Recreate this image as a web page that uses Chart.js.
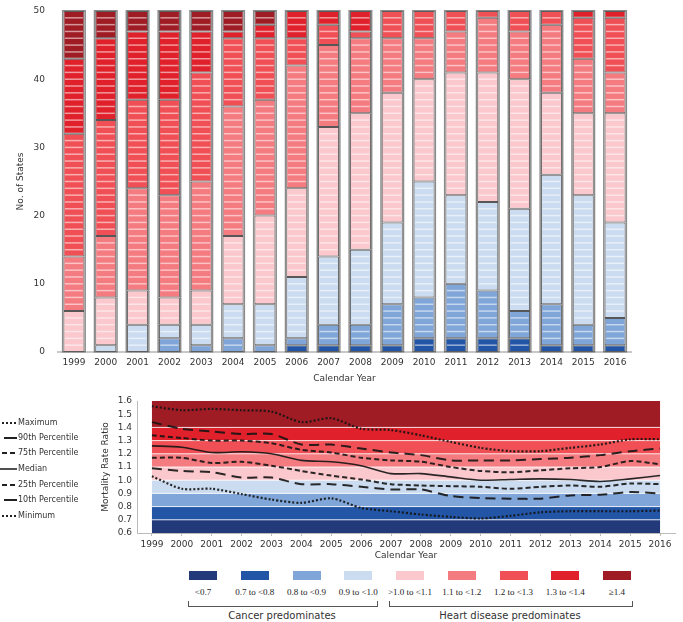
<!DOCTYPE html>
<html>
<head>
<meta charset="utf-8">
<script src="https://cdn.jsdelivr.net/npm/chart.js@4.4.0/dist/chart.umd.min.js"></script>
<style>
  body { margin: 0; background: #fff; font-family: "DejaVu Sans", sans-serif; color: #333; }
  #wrap { position: relative; width: 683px; height: 622px; overflow: hidden; }
  #topBox { position: absolute; left: 0; top: 0; width: 683px; height: 385px; }
  #botBox { position: absolute; left: 0; top: 390px; width: 683px; height: 172px; }
  .lg { position: absolute; left: 0; height: 12px; font-size: 8px; line-height: 12px; white-space: nowrap; }
  .lg svg { position: absolute; left: 0; top: 0; }
  .lg span { position: absolute; left: 18px; top: 0; }
  .box { position: absolute; top: 571px; width: 28px; height: 9px; }
  .blab { position: absolute; top: 586px; width: 60px; text-align: center; font-family: "Liberation Serif", serif; font-size: 9px; line-height: 12px; color: #222; }
  .brk { position: absolute; top: 601px; height: 5px; border: 1px solid #555; border-top: none; }
  .cap { position: absolute; top: 609px; font-size: 10px; line-height: 14px; text-align: center; }
</style>
</head>
<body>
<div id="wrap">
  <div id="topBox"><canvas id="stateChart"></canvas></div>
  <div id="botBox"><canvas id="ratioChart"></canvas></div>
  <div id="lineLegend"></div>
  <div id="colorLegend"></div>
</div>
<script>
const years = ['1999','2000','2001','2002','2003','2004','2005','2006','2007','2008','2009','2010','2011','2012','2013','2014','2015','2016'];

const rangeLabels = ['<0.7','0.7 to <0.8','0.8 to <0.9','0.9 to <1.0','>1.0 to <1.1','1.1 to <1.2','1.2 to <1.3','1.3 to <1.4','\u22651.4'];
const rangeColors = ['#233a7a','#2255a5','#80a6d9','#cbdcf0','#fac8cd','#f47b80','#f05055','#e0202a','#a01c25'];
const bandEdges = [0.6, 0.7, 0.8, 0.9, 1.0, 1.1, 1.2, 1.3, 1.4, 1.6];

// number of states in each ratio range, 1999-2016
const statesUnder07 = [0,0,0,0,0,0,0,0,0,0,0,0,0,0,0,0,0,0];
const states07to08  = [0,0,0,0,0,0,0,1,1,1,1,2,2,2,2,1,1,1];
const states08to09  = [0,0,0,2,1,2,1,1,3,3,6,6,8,7,4,6,3,4];
const states09to10  = [0,1,4,2,3,5,6,9,10,11,12,17,13,13,15,19,19,14];
const states10to11  = [6,7,5,4,5,10,13,13,19,20,19,15,18,19,19,12,12,16];
const states11to12  = [8,9,15,15,16,19,17,18,12,11,8,6,6,8,7,10,8,6];
const states12to13  = [18,17,13,14,16,10,9,4,3,1,4,4,3,1,3,2,6,8];
const states13to14  = [11,12,10,10,6,1,2,4,2,3,0,0,0,0,0,0,1,1];
const states14up    = [7,4,3,3,3,3,2,0,0,0,0,0,0,0,0,0,0,0];
const stateCounts = [statesUnder07, states07to08, states08to09, states09to10, states10to11, states11to12, states12to13, states13to14, states14up];

// mortality rate ratio percentiles
const ratioMax = [1.56,1.53,1.54,1.53,1.52,1.44,1.47,1.39,1.38,1.34,1.29,1.245,1.22,1.22,1.245,1.27,1.31,1.31];
const ratioP90 = [1.44,1.39,1.37,1.35,1.35,1.27,1.27,1.24,1.21,1.19,1.15,1.15,1.15,1.16,1.17,1.19,1.22,1.24];
const ratioP75 = [1.34,1.32,1.30,1.30,1.28,1.23,1.21,1.17,1.15,1.14,1.10,1.07,1.06,1.075,1.09,1.10,1.145,1.12];
const ratioMedian = [1.26,1.25,1.21,1.215,1.20,1.15,1.14,1.11,1.05,1.05,1.025,1.00,1.005,1.01,1.005,0.99,1.01,1.035];
const ratioP25 = [1.17,1.17,1.13,1.14,1.11,1.07,1.035,1.005,0.97,0.96,0.955,0.95,0.935,0.95,0.96,0.95,0.975,0.97];
const ratioP10 = [1.09,1.07,1.06,1.02,1.02,0.97,0.97,0.95,0.93,0.93,0.88,0.865,0.86,0.86,0.885,0.89,0.91,0.90];
const ratioMin = [1.03,0.935,0.935,0.895,0.853,0.828,0.863,0.79,0.765,0.74,0.722,0.71,0.73,0.757,0.765,0.765,0.765,0.77];

const font9 = { family: 'DejaVu Sans', size: 9 };

// white line for every single state inside the bars, plus the grey outline of each bar
const stateLines = {
  id: 'stateLines',
  afterDatasetsDraw(chart) {
    const { ctx } = chart;
    const y = chart.scales.y;
    ctx.save();
    ctx.strokeStyle = 'rgba(255,255,255,0.55)';
    ctx.lineWidth = 1.5;
    chart.data.datasets.forEach((ds, di) => {
      const meta = chart.getDatasetMeta(di);
      meta.data.forEach((bar, j) => {
        const n = ds.data[j];
        if (n < 2) return;
        let start = 0;
        for (let k = 0; k < di; k++) start += chart.data.datasets[k].data[j];
        const half = bar.width / 2;
        for (let s = 1; s < n; s++) {
          const py = y.getPixelForValue(start + s);
          ctx.beginPath();
          ctx.moveTo(bar.x - half + 1.5, py);
          ctx.lineTo(bar.x + half - 1.5, py);
          ctx.stroke();
        }
      });
    });
    // outline round each whole bar
    ctx.strokeStyle = 'rgba(100,100,100,0.75)';
    ctx.lineWidth = 1.5;
    chart.getDatasetMeta(0).data.forEach((bar, j) => {
      let total = 0;
      chart.data.datasets.forEach(ds => total += ds.data[j]);
      const top = y.getPixelForValue(total), bot = y.getPixelForValue(0);
      const half = bar.width / 2;
      ctx.strokeRect(bar.x - half - 0.75, top - 0.25, bar.width + 1.5, bot - top);
    });
    ctx.restore();
  }
};

new Chart(document.getElementById('stateChart').getContext('2d'), {
  type: 'bar',
  data: {
    labels: years,
    datasets: stateCounts.map((arr, i) => ({
      label: rangeLabels[i],
      data: arr,
      backgroundColor: rangeColors[i],
      borderColor: 'rgba(45,45,45,0.8)',
      borderWidth: 1,
      borderSkipped: false,
      barPercentage: 0.66,
      categoryPercentage: 1
    }))
  },
  options: {
    responsive: true,
    maintainAspectRatio: false,
    animation: false,
    layout: { padding: { left: 0, right: 52, top: 11, bottom: 0 } },
    plugins: { legend: { display: false }, tooltip: { enabled: false } },
    scales: {
      x: {
        stacked: true,
        grid: { display: false, drawTicks: false },
        border: { display: true, color: '#c8c8c8', width: 2 },
        ticks: { color: '#333', font: font9, padding: 5, maxRotation: 0, autoSkip: false },
        title: { display: true, text: 'Calendar Year', color: '#333', font: font9, padding: { top: 0, bottom: 1 } },
        afterFit: s => { s.height = 33; }
      },
      y: {
        stacked: true,
        min: 0,
        max: 50,
        ticks: { stepSize: 10, color: '#333', font: font9, padding: 13, autoSkip: false },
        grid: { display: false, drawTicks: false },
        border: { display: false },
        title: { display: true, text: 'No. of States', color: '#333', font: font9, padding: { top: 15, bottom: 0 } },
        // tick padding would otherwise push the plot top down
        afterFit: s => { s.width = 58; s.paddingTop = 5; s.paddingBottom = 5; }
      }
    }
  },
  plugins: [stateLines]
});

// coloured ratio bands behind the percentile lines
const ratioBands = {
  id: 'ratioBands',
  beforeDatasetsDraw(chart) {
    const { ctx } = chart;
    const { x, y } = chart.scales;
    const x0 = x.getPixelForValue(0), x1 = x.getPixelForValue(years.length - 1);
    ctx.save();
    for (let i = 0; i < rangeColors.length; i++) {
      const yTop = y.getPixelForValue(bandEdges[i + 1]);
      const yBot = y.getPixelForValue(bandEdges[i]);
      ctx.fillStyle = rangeColors[i];
      ctx.fillRect(x0, yTop, x1 - x0, yBot - yTop);
    }
    ctx.strokeStyle = 'rgba(255,255,255,0.8)';
    ctx.lineWidth = 1;
    for (let i = 1; i < bandEdges.length - 1; i++) {
      const py = y.getPixelForValue(bandEdges[i]);
      ctx.beginPath();
      ctx.moveTo(x0, py);
      ctx.lineTo(x1, py);
      ctx.stroke();
    }
    ctx.restore();
  }
};

const lineStyles = [
  { label: 'Maximum', data: ratioMax, dash: [2, 2], width: 2.2 },
  { label: '90th Percentile', data: ratioP90, dash: [10, 6], width: 2 },
  { label: '75th Percentile', data: ratioP75, dash: [5, 3], width: 2 },
  { label: 'Median', data: ratioMedian, dash: [], width: 1.6 },
  { label: '25th Percentile', data: ratioP25, dash: [5, 3], width: 2 },
  { label: '10th Percentile', data: ratioP10, dash: [10, 6], width: 2 },
  { label: 'Minimum', data: ratioMin, dash: [2, 2], width: 2.2 }
];

new Chart(document.getElementById('ratioChart').getContext('2d'), {
  type: 'line',
  data: {
    labels: years,
    datasets: lineStyles.map(l => ({
      label: l.label,
      data: l.data,
      borderColor: 'rgba(20,20,20,0.9)',
      borderWidth: l.width,
      borderDash: l.dash,
      pointRadius: 0,
      tension: 0.25,
      fill: false
    }))
  },
  options: {
    responsive: true,
    maintainAspectRatio: false,
    animation: false,
    layout: { padding: { left: 0, right: 8, top: 11, bottom: 0 } },
    plugins: { legend: { display: false }, tooltip: { enabled: false } },
    scales: {
      x: {
        offset: true,
        grid: { drawOnChartArea: false, drawTicks: true, tickLength: 3, color: '#bbb' },
        border: { display: true, color: '#bbb', width: 1 },
        ticks: { color: '#333', font: font9, padding: 3, maxRotation: 0, autoSkip: false },
        title: { display: true, text: 'Calendar Year', color: '#333', font: font9, padding: { top: 0, bottom: 1 } },
        afterFit: s => { s.height = 29; }
      },
      y: {
        min: 0.6,
        max: 1.6,
        ticks: { stepSize: 0.1, color: '#333', font: font9, padding: 5, autoSkip: false, callback: v => Number(v).toFixed(1) },
        grid: { drawOnChartArea: false, drawTicks: false },
        border: { display: true, color: '#bbb', width: 1 },
        title: { display: true, text: 'Mortality Rate Ratio', color: '#333', font: font9, padding: { top: 100, bottom: 0 } },
        afterFit: s => { s.width = 137; }
      }
    }
  },
  plugins: [ratioBands]
});

// legend for the line styles (left of the lower chart)
const legendTops = [417, 432, 447, 463, 479, 494, 510];
const lineLegend = document.getElementById('lineLegend');
lineStyles.forEach((l, i) => {
  const item = document.createElement('div');
  item.className = 'lg';
  item.style.top = legendTops[i] + 'px';
  const isLong = l.dash[0] === 10;
  const dashAttr = l.dash.length && !isLong ? ` stroke-dasharray="${l.dash.join(',')}"` : '';
  const x1 = l.label === 'Median' ? 0 : (isLong ? 4 : 2);
  item.innerHTML = `<svg width="18" height="12"><line x1="${x1}" y1="6" x2="17" y2="6" stroke="#222" stroke-width="${l.width}"${dashAttr}/></svg><span>${l.label}</span>`;
  lineLegend.appendChild(item);
});

// colour legend with the two brackets
const colorLegend = document.getElementById('colorLegend');
rangeLabels.forEach((lab, i) => {
  const cx = 203 + i * 51.75;
  const b = document.createElement('div');
  b.className = 'box';
  b.style.left = (cx - 14) + 'px';
  b.style.background = rangeColors[i];
  colorLegend.appendChild(b);
  const t = document.createElement('div');
  t.className = 'blab';
  t.style.left = (cx - 30) + 'px';
  t.textContent = lab;
  colorLegend.appendChild(t);
});
[
  { left: 188, width: 188, text: 'Cancer predominates' },
  { left: 389, width: 242, text: 'Heart disease predominates' }
].forEach(g => {
  const br = document.createElement('div');
  br.className = 'brk';
  br.style.left = g.left + 'px';
  br.style.width = g.width + 'px';
  colorLegend.appendChild(br);
  const c = document.createElement('div');
  c.className = 'cap';
  c.style.left = g.left + 'px';
  c.style.width = g.width + 'px';
  c.textContent = g.text;
  colorLegend.appendChild(c);
});
</script>
</body>
</html>
